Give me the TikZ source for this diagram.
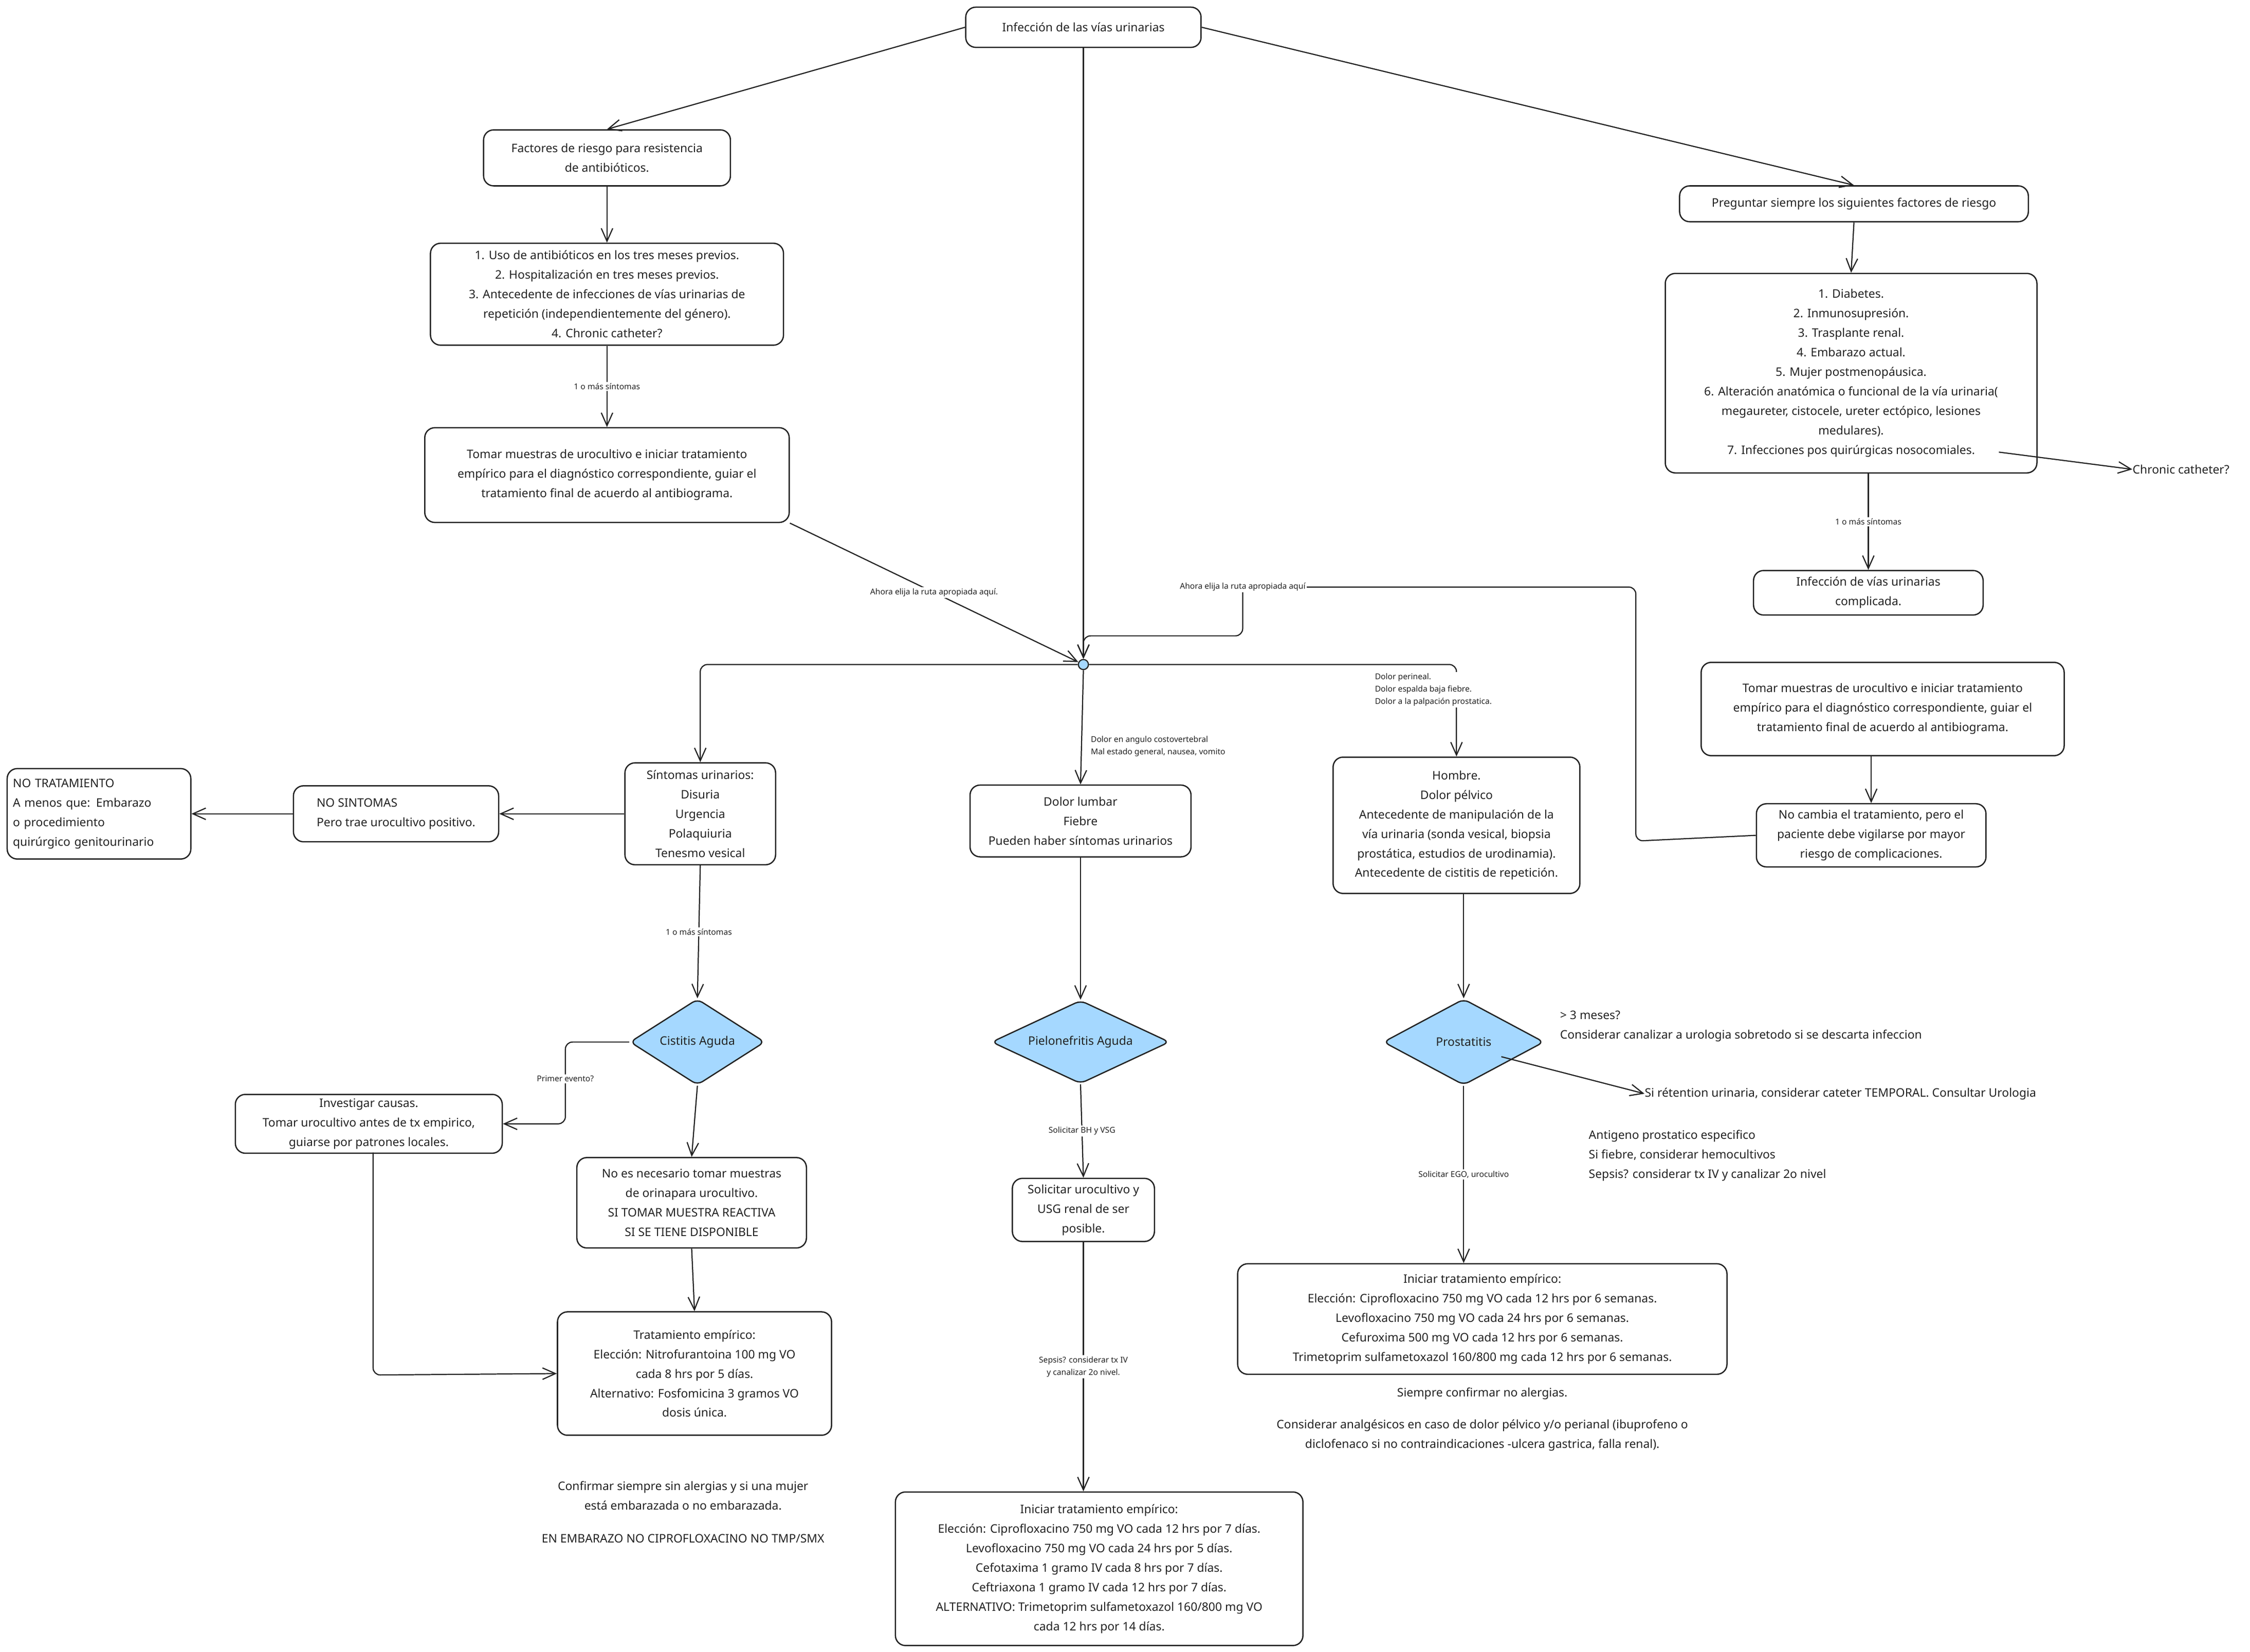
\documentclass[tikz,border=0pt]{standalone}
\usepackage{fontspec}
\setmainfont{Noto Sans}
\usetikzlibrary{arrows.meta,shapes.geometric}
\definecolor{dblue}{HTML}{A5D8FF}
\definecolor{ink}{HTML}{222222}
\begin{document}
\begin{tikzpicture}[x=1pt,y=-1pt,
  every node/.style={text=ink},
  txt/.style={font=\fontsize{8.2}{13.6}\selectfont, align=center, inner sep=0pt},
  box/.style={draw=ink, line width=0.9pt, rounded corners=7pt, font=\fontsize{8.2}{13.6}\selectfont, align=center, inner sep=0pt},
  dia/.style={draw=ink, line width=0.9pt, diamond, fill=dblue, aspect=1.6, inner sep=0pt, font=\fontsize{8.2}{13.6}\selectfont, rounded corners=4pt},
  lab/.style={font=\fontsize{5.6}{8.5}\selectfont, fill=white, inner sep=1pt, align=center, text=ink},
  arr/.style={draw=ink, line width=0.8pt, -{Straight Barb[length=9pt,width=8pt]}, rounded corners=5pt},
  ln/.style={draw=ink, line width=0.8pt, rounded corners=5pt}]
\useasboundingbox (0,0) rectangle (1568,1151);
\fill[white] (0,0) rectangle (1568,1151);

% nodes
\node[box, minimum width=164, minimum height=28] (top) at (755,19) {Infección de las vías urinarias};
\node[box, minimum width=172, minimum height=39] (riesgo) at (423,110) {Factores de riesgo para resistencia\\de antibióticos.};
\node[box, minimum width=246, minimum height=71] (list1) at (423,205) {1. Uso de antibióticos en los tres meses previos.\\2. Hospitalización en tres meses previos.\\3. Antecedente de infecciones de vías urinarias de\\repetición (independientemente del género).\\4. Chronic catheter?};
\node[box, minimum width=254, minimum height=66] (tomar1) at (423,331) {Tomar muestras de urocultivo e iniciar tratamiento\\empírico para el diagnóstico correspondiente, guiar el\\tratamiento final de acuerdo al antibiograma.};
\node[box, minimum width=243, minimum height=25] (preg) at (1292,142) {Preguntar siempre los siguientes factores de riesgo};
\node[box, minimum width=259, minimum height=139] (list2) at (1290,260) {1. Diabetes.\\2. Inmunosupresión.\\3. Trasplante renal.\\4. Embarazo actual.\\5. Mujer postmenopáusica.\\6. Alteración anatómica o funcional de la vía urinaria(\\megaureter, cistocele, ureter ectópico, lesiones\\medulares).\\7. Infecciones pos quirúrgicas nosocomiales.};
\node[txt, anchor=west] (chronic) at (1486,327) {Chronic catheter?};
\node[box, minimum width=160, minimum height=31] (compl) at (1302,413) {Infección de vías urinarias\\complicada.};
\node[box, minimum width=253, minimum height=65] (tomar2) at (1312,494) {Tomar muestras de urocultivo e iniciar tratamiento\\empírico para el diagnóstico correspondiente, guiar el\\tratamiento final de acuerdo al antibiograma.};
\node[box, minimum width=160, minimum height=44] (nocambia) at (1304,582) {No cambia el tratamiento, pero el\\paciente debe vigilarse por mayor\\riesgo de complicaciones.};
\node[circle, draw=ink, fill=dblue, line width=0.8pt, minimum size=7pt, inner sep=0pt] (hub) at (755,463) {};
\node[box, minimum width=105, minimum height=71] (sint) at (488,567) {Síntomas urinarios:\\Disuria\\Urgencia\\Polaquiuria\\Tenesmo vesical};
\node[box, minimum width=143, minimum height=39, align=left] (nosint) at (276,567) {NO SINTOMAS\\Pero trae urocultivo positivo.};
\node[box, minimum width=128, minimum height=63, align=left, text width=120pt] (notrat) at (69,567) {NO TRATAMIENTO\\A menos que: Embarazo\\o procedimiento\\quirúrgico genitourinario};
\node[box, minimum width=154, minimum height=50] (lumbar) at (753,572) {Dolor lumbar\\Fiebre\\Pueden haber síntomas urinarios};
\node[box, minimum width=172, minimum height=95] (hombre) at (1015,575) {Hombre.\\Dolor pélvico\\Antecedente de manipulación de la\\vía urinaria (sonda vesical, biopsia\\prostática, estudios de urodinamia).\\Antecedente de cistitis de repetición.};
\node[dia, minimum width=94, minimum height=60] (cist) at (486,726) {Cistitis Aguda};
\node[dia, minimum width=124, minimum height=58] (pielo) at (753,726) {Pielonefritis Aguda};
\node[dia, minimum width=112, minimum height=60] (prost) at (1020,726) {Prostatitis};
\node[box, minimum width=186, minimum height=41] (invest) at (257,783) {Investigar causas.\\Tomar urocultivo antes de tx empirico,\\guiarse por patrones locales.};
\node[box, minimum width=160, minimum height=63] (noneces) at (482,838) {No es necesario tomar muestras\\de orinapara urocultivo.\\SI TOMAR MUESTRA REACTIVA\\SI SE TIENE DISPONIBLE};
\node[box, minimum width=191, minimum height=86] (tcist) at (484,957) {Tratamiento empírico:\\Elección: Nitrofurantoina 100 mg VO\\cada 8 hrs por 5 días.\\Alternativo: Fosfomicina 3 gramos VO\\dosis única.};
\node[box, minimum width=99, minimum height=44] (soluro) at (755,843) {Solicitar urocultivo y\\USG renal de ser\\posible.};
\node[box, minimum width=284, minimum height=107] (tpielo) at (766,1093) {Iniciar tratamiento empírico:\\Elección: Ciprofloxacino 750 mg VO cada 12 hrs por 7 días.\\Levofloxacino 750 mg VO cada 24 hrs por 5 días.\\Cefotaxima 1 gramo IV cada 8 hrs por 7 días.\\Ceftriaxona 1 gramo IV cada 12 hrs por 7 días.\\ALTERNATIVO: Trimetoprim sulfametoxazol 160/800 mg VO\\cada 12 hrs por 14 días.};
\node[box, minimum width=341, minimum height=77] (tprost) at (1033,919) {Iniciar tratamiento empírico:\\Elección: Ciprofloxacino 750 mg VO cada 12 hrs por 6 semanas.\\Levofloxacino 750 mg VO cada 24 hrs por 6 semanas.\\Cefuroxima 500 mg VO cada 12 hrs por 6 semanas.\\Trimetoprim sulfametoxazol 160/800 mg cada 12 hrs por 6 semanas.};
\node[txt, anchor=west, align=left] (meses) at (1087,715) {> 3 meses?\\Considerar canalizar a urologia sobretodo si se descarta infeccion};
\node[txt, anchor=west] (reten) at (1146,762) {Si rétention urinaria, considerar cateter TEMPORAL. Consultar Urologia};
\node[txt, anchor=west, align=left] (antig) at (1107,805) {Antigeno prostatico especifico\\Si fiebre, considerar hemocultivos\\Sepsis? considerar tx IV y canalizar 2o nivel};
\node[txt] (alerg) at (1033,971) {Siempre confirmar no alergias.};
\node[txt] (analg) at (1033,1000) {Considerar analgésicos en caso de dolor pélvico y/o perianal (ibuprofeno o\\diclofenaco si no contraindicaciones -ulcera gastrica, falla renal).};
\node[txt] (confirm) at (476,1042) {Confirmar siempre sin alergias y si una mujer\\está embarazada o no embarazada.};
\node[txt] (emb) at (476,1072) {EN EMBARAZO NO CIPROFLOXACINO NO TMP/SMX};

% connectors
\draw[arr] (top.west) -- (riesgo.north);
\draw[arr] (top.south) -- (hub.north);
\draw[arr] (top.east) -- (preg.north);
\draw[arr] (riesgo.south) -- (list1.north);
\draw[arr] (list1.south) -- node[lab]{1 o más síntomas} (tomar1.north);
\draw[arr] (tomar1.south east) -- node[lab, pos=0.5]{Ahora elija la ruta apropiada aquí.} (hub);
\draw[arr] (preg.south) -- (list2.north);
\coordinate (c7) at (1393,315);
\draw[arr] (c7) -- (chronic.west);
\draw[arr] (list2.south -| compl.north) -- node[lab]{1 o más síntomas} (compl.north);
\draw[arr] (tomar2.south -| nocambia.north) -- (nocambia.north);
\draw[ln] (nocambia.west) -- (1140,586) -- (1140,409) -- (866,409);
\draw[arr] (866,409) -- (866,443) -- (755,443) -- (hub.north);
\node[lab] at (866,409) {Ahora elija la ruta apropiada aquí};
\draw[arr] (hub.west) -| (sint.north);
\draw[arr] (hub.east) -| (hombre.north);
\node[lab, anchor=north west, align=left] at (957,468) {Dolor perineal.\\Dolor espalda baja fiebre.\\Dolor a la palpación prostatica.};
\draw[arr] (hub.south) -- (lumbar.north);
\node[lab, anchor=west, align=left, fill=none] at (759,520) {Dolor en angulo costovertebral\\Mal estado general, nausea, vomito};
\draw[arr] (sint.west) -- (nosint.east);
\draw[arr] (nosint.west) -- (notrat.east);
\draw[arr] (sint.south) -- node[lab]{1 o más síntomas} (cist.north);
\draw[arr] (cist.west) -- (394,726) -- node[lab, pos=0.45]{Primer evento?} (394,783) -- (invest.east);
\draw[arr] (cist.south) -- (noneces.north);
\draw[arr] (noneces.south) -- (tcist.north);
\draw[arr] (260,803) -- (260,958) -- (tcist.west);
\draw[arr] (lumbar.south -| pielo.north) -- (pielo.north);
\draw[arr] (pielo.south) -- node[lab]{Solicitar BH y VSG} (soluro.north);
\draw[arr] (soluro.south) -- node[lab]{Sepsis? considerar tx IV\\y canalizar 2o nivel.} (soluro.south |- tpielo.north);
\draw[arr] (hombre.south -| prost.north) -- (prost.north);
\draw[arr] (prost.south) -- node[lab]{Solicitar EGO, urocultivo} (prost.south |- tprost.north);
\draw[arr] (prost.south east) ++(-2,-5) -- (reten.west);
\end{tikzpicture}
\end{document}
